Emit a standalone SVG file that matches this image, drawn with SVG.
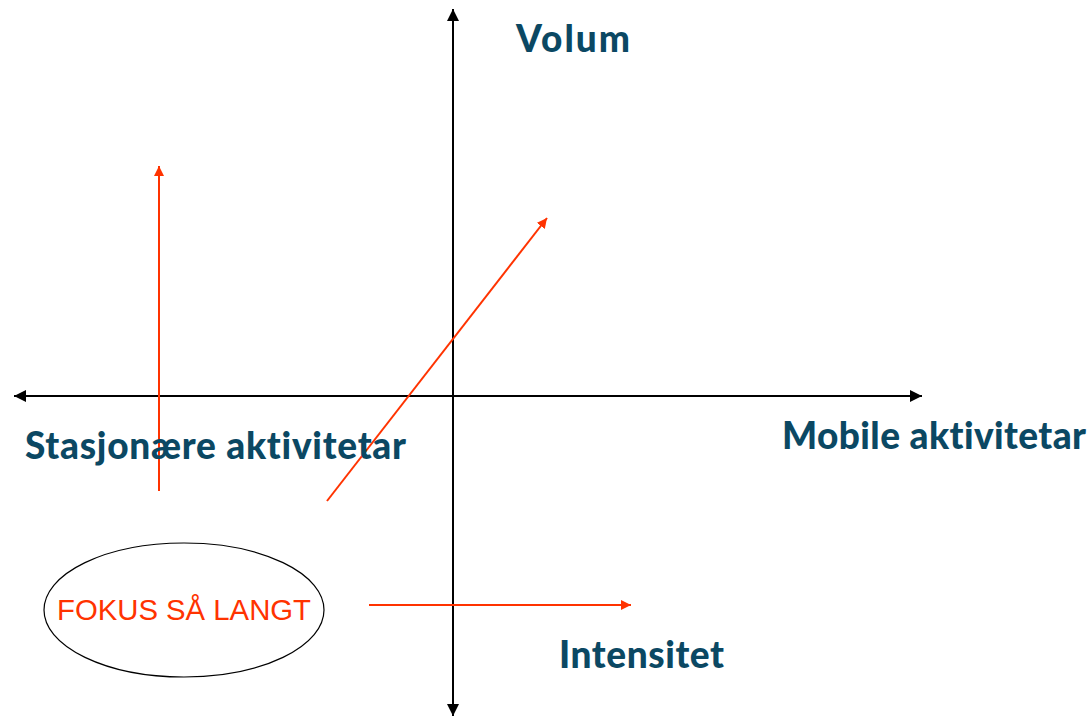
<svg xmlns="http://www.w3.org/2000/svg" width="1090" height="718" viewBox="0 0 1090 718">
<style>
.lbl{font-family:Lato,"Open Sans","Liberation Sans",sans-serif;font-weight:900;fill:#0b4863;font-size:37px;font-variant-ligatures:none}
.axis{stroke:#000;stroke-width:2;fill:none}
.red{stroke:#ff3300;stroke-width:2;fill:none}
</style>
<defs>
<marker id="ab" viewBox="0 0 10 10" refX="10" refY="5" markerWidth="6" markerHeight="6" orient="auto-start-reverse" markerUnits="strokeWidth"><path d="M0,0 L10,5 L0,10 z" fill="#000"/></marker>
<marker id="ar" viewBox="0 0 10 10" refX="10" refY="5" markerWidth="5" markerHeight="5" orient="auto" markerUnits="strokeWidth"><path d="M0,0 L10,5 L0,10 z" fill="#ff3300"/></marker>
</defs>
<rect width="1090" height="718" fill="#fff"/>
<g id="connectors">
<line class="axis" x1="14" y1="396" x2="922" y2="396" marker-start="url(#ab)" marker-end="url(#ab)"/>
<line class="axis" x1="453" y1="9" x2="453" y2="716" marker-start="url(#ab)" marker-end="url(#ab)"/>
<line class="red" x1="159" y1="491" x2="159" y2="166" marker-end="url(#ar)"/>
<line class="red" x1="327" y1="501" x2="547" y2="218" marker-end="url(#ar)"/>
<line class="red" x1="369" y1="605" x2="631" y2="605" marker-end="url(#ar)"/>
</g>
<g id="volum"><text class="lbl" x="516" y="52" textLength="114">Volum</text></g>
<g id="stasjonaere"><text class="lbl" x="25" y="459" textLength="381">Stasjonære aktivitetar</text></g>
<g id="mobile"><text class="lbl" x="782" y="449" textLength="304">Mobile aktivitetar</text></g>
<g id="intensitet"><text class="lbl" x="559" y="668" textLength="165">Intensitet</text></g>
<g id="fokus">
<ellipse cx="184" cy="610" rx="140" ry="67" fill="none" stroke="#000" stroke-width="1.2"/>
<text x="57" y="620" font-family="'Liberation Sans',Arial,sans-serif" font-size="29" fill="#ff3300" textLength="254" lengthAdjust="spacingAndGlyphs">FOKUS SÅ LANGT</text>
</g>
</svg>
